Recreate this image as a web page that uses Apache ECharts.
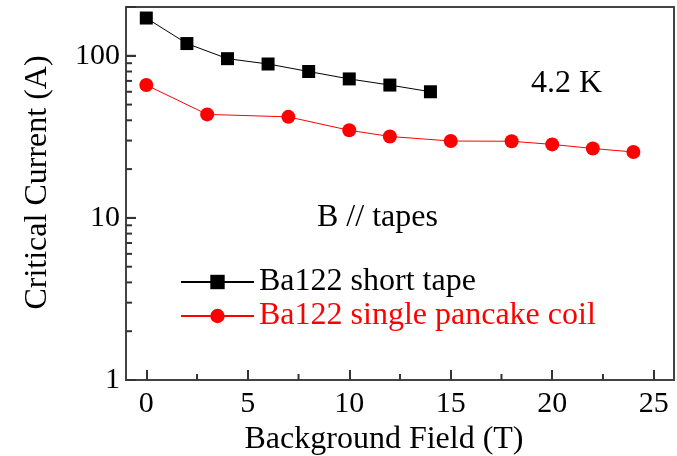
<!DOCTYPE html>
<html>
<head>
<meta charset="utf-8">
<script src="https://cdn.jsdelivr.net/npm/echarts@6/dist/echarts.min.js"></script>
<style>
html,body{margin:0;padding:0;background:#fff;}
#chart{width:677px;height:456px;}
</style>
</head>
<body>
<div id="chart"></div>
<script>
const seriesNames = ['Ba122 short tape', 'Ba122 single pancake coil'];
const fieldShort = [0, 2, 4, 6, 8, 10, 12, 14];
const currentShort = [171, 119, 96, 89, 80, 72, 66, 60];
const fieldCoil = [0, 3, 7, 10, 12, 15, 18, 20, 22, 24];
const currentCoil = [66, 43.5, 42, 34.7, 31.8, 29.8, 29.7, 28.4, 26.8, 25.5];
const xMajorTicks = [0, 5, 10, 15, 20, 25];
const xMinorTicks = [2.5, 7.5, 12.5, 17.5, 22.5];
const yMajorLabels = [1, 10, 100];
const yMinorTicks = [2, 3, 4, 5, 6, 7, 8, 9, 20, 30, 40, 50, 60, 70, 80, 90];
const annotations = ['4.2 K', 'B // tapes'];
const xTitle = 'Background Field (T)';
const yTitle = 'Critical Current (A)';

const FONT = 'Liberation Serif';
const xMin = -1, xMax = 26, yMin = 1, yMax = 200;
const TICK = '#333';

const chart = echarts.init(document.getElementById('chart'));
const toPairs = (xs, ys) => xs.map((x, i) => [x, ys[i]]);

const textGraphics = [{
  type: 'text', left: 531, top: 68, z: 10,
  style: {text: annotations[0], font: '32px "' + FONT + '"', fill: '#000'}
}, {
  type: 'text', left: 317, top: 202, z: 10,
  style: {text: annotations[1], font: '32px "' + FONT + '"', fill: '#000'}
}];

chart.setOption({
  animation: false,
  grid: {left: 126, right: 3, top: 7, bottom: 76, outerBoundsMode: 'none', containLabel: false,
    show: true, borderColor: '#444', borderWidth: 2, backgroundColor: 'transparent'},
  legend: {
    orient: 'vertical', left: 175, top: 261, itemWidth: 73, itemHeight: 18, itemGap: 2,
    textStyle: {fontFamily: FONT, fontSize: 32},
    data: [
      {name: seriesNames[0], textStyle: {color: '#000'}},
      {name: seriesNames[1], textStyle: {color: '#ff0000'}}
    ]
  },
  xAxis: {
    type: 'value', min: xMin, max: xMax,
    name: xTitle, nameLocation: 'middle', nameGap: 44,
    nameTextStyle: {fontFamily: FONT, fontSize: 32, color: '#000', padding: [0, 32, 0, 0]},
    axisLine: {onZero: false, lineStyle: {color: '#444', width: 2}},
    axisTick: {show: true, inside: true, length: 10, lineStyle: {color: TICK, width: 2}, customValues: xMajorTicks},
    axisLabel: {fontFamily: FONT, fontSize: 30, color: '#000', margin: 9, customValues: xMajorTicks},
    splitLine: {show: false}
  },
  yAxis: {
    type: 'log', logBase: 10, min: yMin, max: yMax,
    name: yTitle, nameLocation: 'middle', nameGap: 72, nameRotate: 90,
    nameTextStyle: {fontFamily: FONT, fontSize: 32, color: '#000', padding: [0, 0, 0, 22]},
    axisLine: {onZero: false, lineStyle: {color: '#444', width: 2}},
    axisTick: {show: true, inside: true, length: 10, lineStyle: {color: TICK, width: 2}},
    axisLabel: {fontFamily: FONT, fontSize: 30, color: '#000', margin: 6,
      formatter: v => yMajorLabels.some(m => Math.abs(m - v) < 1e-6) ? String(Math.round(v)) : ''},
    splitLine: {show: false}
  },
  series: [{
    name: seriesNames[0], type: 'line',
    data: toPairs(fieldShort, currentShort),
    symbol: 'rect', symbolSize: 13, z: 3,
    lineStyle: {color: '#000', width: 1}, itemStyle: {color: '#000'}
  }, {
    name: seriesNames[1], type: 'line',
    data: toPairs(fieldCoil, currentCoil),
    symbol: 'circle', symbolSize: 14, z: 3,
    lineStyle: {color: '#ff0000', width: 1}, itemStyle: {color: '#ff0000'}
  }],
  graphic: textGraphics
});

// tick marks placed through the chart's own axis scales
const finder = {xAxisIndex: 0, yAxisIndex: 0};
const tickLine = (p, dx, dy) => ({
  type: 'line', z: 10, silent: true,
  shape: {x1: p[0], y1: p[1], x2: p[0] + dx, y2: p[1] + dy},
  style: {stroke: TICK, lineWidth: 2}
});
const tickGraphics = [];
yMajorLabels.forEach(v => tickGraphics.push(tickLine(chart.convertToPixel(finder, [xMin, v]), 10, 0)));
yMinorTicks.forEach(v => tickGraphics.push(tickLine(chart.convertToPixel(finder, [xMin, v]), 6, 0)));
xMinorTicks.forEach(v => tickGraphics.push(tickLine(chart.convertToPixel(finder, [v, yMin]), 0, -6)));
chart.setOption({graphic: textGraphics.concat(tickGraphics)});
</script>
</body>
</html>
